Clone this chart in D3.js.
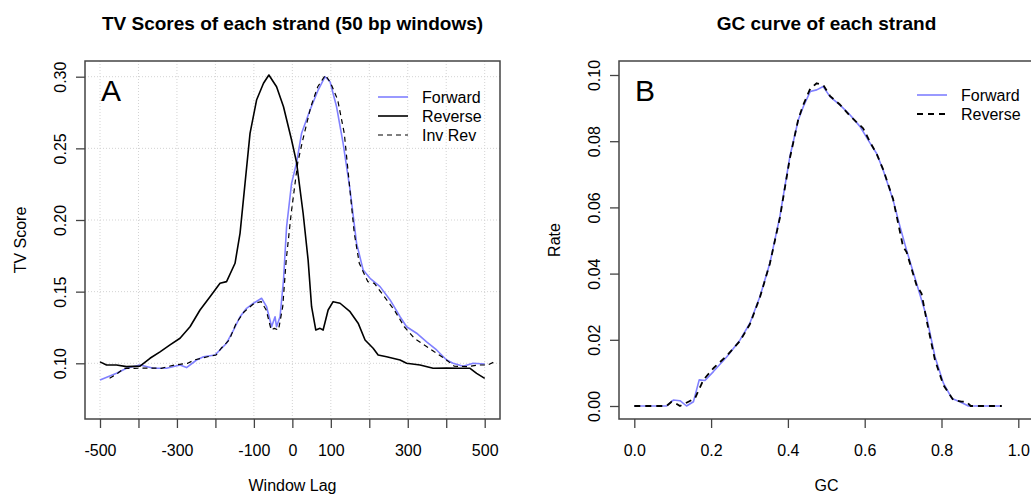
<!DOCTYPE html>
<html lang="en">
<head>
<meta charset="utf-8">
<title>TV scores and GC curve</title>
<script src="https://cdn.jsdelivr.net/npm/d3@7"></script>
<style>
  body { margin: 0; background: #fff; }
  svg { display: block; font-family: "Liberation Sans", Arial, sans-serif; }
  .grid line { stroke: #d3d3d3; stroke-dasharray: 1,2; }
  .axis text { font-size: 16px; fill: #000; }
  .axis line { stroke: #444; stroke-width: 1.3; }
</style>
</head>
<body>
<div id="chart"></div>
<script>
// ---- panel A: TV scores (lag, score) ----
var fwdLag = [-500,-457,-431,-396,-361,-327,-292,-275,-249,-231,-201,-171,-153,-136,-119,-101,-80,-67,-58,-54,
  -45,-41,-32,-23,-15,-2,11,24,46,67,85,98,115,132,150,167,184,202,228,254,280,297,323,349,375,401,418,444,470,500];
var fwdScore = [0.0884,0.093,0.0965,0.0988,0.0965,0.0965,0.0988,0.097,0.1023,0.1046,0.1058,0.114,0.1232,0.1325,0.1384,
  0.1419,0.1454,0.1395,0.130,0.1255,0.1325,0.1255,0.1325,0.158,0.1953,0.2256,0.240,0.2605,0.2768,0.2907,
  0.300,0.2965,0.279,0.2535,0.221,0.1837,0.1651,0.1593,0.1535,0.1442,0.1325,0.1255,0.121,0.115,0.1093,
  0.1023,0.100,0.098,0.100,0.0995];

var revLag = [-500,-483,-457,-431,-396,-370,-344,-318,-292,-266,-240,-214,-188,-171,-149,-136,-123,-110,-93,-75,
  -61,-41,-23,-2,11,28,41,50,61,72,80,93,106,124,150,171,189,210,223,245,280,297,332,366,401,436,462,479,500];
var revScore = [0.101,0.0988,0.0988,0.0977,0.098,0.1035,0.108,0.1128,0.1175,0.1255,0.1372,0.1465,0.1558,0.157,0.1698,
  0.1907,0.2256,0.2605,0.2837,0.2954,0.3012,0.293,0.279,0.2558,0.240,0.2047,0.172,0.1395,0.1232,0.1244,
  0.1232,0.1372,0.143,0.1419,0.136,0.128,0.1163,0.1105,0.1058,0.1046,0.1023,0.100,0.0988,0.0965,0.0967,
  0.0965,0.0965,0.093,0.0895];

var invLag = [-475,-454,-437,-411,-376,-341,-307,-272,-255,-220,-198,-185,-164,-146,-125,-99,-81,-68,-55,-47,
  -36,-25,-16,-3,14,27,48,66,86,100,118,135,148,161,174,196,213,239,265,291,317,343,369,395,421,456,482,508,525];
var invScore = [0.0895,0.093,0.0965,0.0965,0.0967,0.0965,0.0988,0.100,0.1023,0.1046,0.1058,0.1105,0.1163,0.128,0.136,
  0.1419,0.143,0.1372,0.1232,0.1244,0.1232,0.1395,0.172,0.2047,0.240,0.2558,0.279,0.293,0.3012,0.2954,
  0.2837,0.2605,0.2256,0.1907,0.1698,0.157,0.1558,0.1465,0.1372,0.1255,0.1175,0.1128,0.108,0.1035,0.098,
  0.0977,0.0988,0.0988,0.101];

var lagTicks = [-500,-400,-300,-200,-100,0,100,200,300,400,500];
var lagLabels = [-500,-300,-100,0,100,300,500];
var scoreTicks = [0.10,0.15,0.20,0.25,0.30];

// ---- panel B: GC curve (gc, rate) ----
var gcFwd = [0,0.084,0.1016,0.119,0.136,0.154,0.169,0.184,0.206,0.241,0.275,0.301,0.327,0.353,0.379,0.405,0.427,0.44,
  0.458,0.475,0.492,0.51,0.536,0.562,0.588,0.614,0.631,0.648,0.674,0.692,0.709,0.735,0.761,0.783,0.805,0.827,0.848,0.87,0.957];
var rateFwd = [0,0,0.0018,0.0016,0,0.0013,0.0079,0.0077,0.0104,0.0149,0.0199,0.025,0.033,0.0431,0.0572,0.0753,0.0864,0.0904,
  0.095,0.0955,0.0965,0.0934,0.0909,0.0879,0.0844,0.0794,0.0763,0.0713,0.0622,0.0542,0.0471,0.0371,0.027,0.0149,0.0069,
  0.0023,0.0013,0,0];

var gcRev = [0,0.084,0.097,0.108,0.119,0.141,0.158,0.18,0.206,0.241,0.275,0.301,0.327,0.353,0.379,0.405,0.427,0.44,0.458,
  0.475,0.492,0.51,0.536,0.562,0.596,0.614,0.631,0.648,0.674,0.7,0.709,0.735,0.748,0.761,0.783,0.805,0.831,0.852,0.865,0.876,0.957];
var rateRev = [0,0,0.0013,0.0008,0,0.0013,0.0023,0.0079,0.0114,0.0152,0.0196,0.0247,0.0328,0.043,0.0568,0.0748,0.0866,0.091,
  0.0958,0.0975,0.097,0.0936,0.091,0.0876,0.0839,0.0797,0.0762,0.0715,0.0625,0.0481,0.0465,0.0365,0.034,0.026,0.0139,
  0.0063,0.0018,0.0013,0.0013,0,0];

var gcTicks = [0,0.2,0.4,0.6,0.8,1.0];
var rateTicks = [0,0.02,0.04,0.06,0.08,0.10];

var fwdColor = '#8080ff';

var svg = d3.select('#chart').append('svg')
  .attr('width', 1031)
  .attr('height', 498);

svg.append('rect').attr('width', 1031).attr('height', 498).attr('fill', '#fff');

function zip(xs, ys) {
  return xs.map(function (x, i) { return [x, ys[i]]; });
}

function panel(opt) {
  var g = svg.append('g');
  var box = opt.box;
  var x = d3.scaleLinear().domain(opt.xDomain).range(opt.xRange);
  var y = d3.scaleLinear().domain(opt.yDomain).range(opt.yRange);

  g.append('clipPath').attr('id', opt.id + '-clip')
    .append('rect')
    .attr('x', box.x0).attr('y', box.y0)
    .attr('width', box.x1 - box.x0).attr('height', box.y1 - box.y0);

  if (opt.grid) {
    var grid = g.append('g').attr('class', 'grid');
    grid.selectAll('.gx').data(opt.xTicks).enter().append('line')
      .attr('x1', function (d) { return x(d); }).attr('x2', function (d) { return x(d); })
      .attr('y1', box.y0).attr('y2', box.y1);
    grid.selectAll('.gy').data(opt.yTicks).enter().append('line')
      .attr('y1', function (d) { return y(d); }).attr('y2', function (d) { return y(d); })
      .attr('x1', box.x0).attr('x2', box.x1);
  }

  var line = d3.line()
    .x(function (d) { return x(d[0]); })
    .y(function (d) { return y(d[1]); });

  var plot = g.append('g').attr('clip-path', 'url(#' + opt.id + '-clip)');
  opt.series.forEach(function (s) {
    plot.append('path')
      .attr('d', line(zip(s.xs, s.ys)))
      .attr('fill', 'none')
      .attr('stroke', s.color)
      .attr('stroke-width', s.width)
      .attr('stroke-dasharray', s.dash || null)
      .attr('stroke-linejoin', 'round');
  });

  // box
  g.append('rect')
    .attr('x', box.x0).attr('y', box.y0)
    .attr('width', box.x1 - box.x0).attr('height', box.y1 - box.y0)
    .attr('fill', 'none').attr('stroke', '#444').attr('stroke-width', 1.5);

  // axes
  var xa = g.append('g').attr('class', 'axis')
    .attr('transform', 'translate(0,' + box.y1 + ')')
    .call(d3.axisBottom(x).tickValues(opt.xTicks).tickSize(9).tickPadding(17)
      .tickFormat(opt.xFormat));
  xa.select('.domain').remove();
  xa.selectAll('text').attr('font-family', null).attr('font-size', null);

  var ya = g.append('g').attr('class', 'axis')
    .attr('transform', 'translate(' + box.x0 + ',0)')
    .call(d3.axisLeft(y).tickValues(opt.yTicks).tickSize(9).tickFormat(opt.yFormat));
  ya.select('.domain').remove();
  ya.selectAll('text')
    .attr('x', null).attr('dy', null)
    .attr('text-anchor', 'middle')
    .attr('transform', 'translate(-19,0) rotate(-90)');

  // titles
  var cx = (box.x0 + box.x1) / 2;
  g.append('text').attr('x', cx).attr('y', 30)
    .attr('text-anchor', 'middle').attr('font-weight', 'bold').attr('font-size', 19)
    .text(opt.title);
  g.append('text').attr('x', cx).attr('y', 491)
    .attr('text-anchor', 'middle').attr('font-size', 16)
    .text(opt.xLabel);
  g.append('text')
    .attr('transform', 'translate(' + (box.x0 - 59) + ',' + ((box.y0 + box.y1) / 2) + ') rotate(-90)')
    .attr('text-anchor', 'middle').attr('font-size', 16)
    .text(opt.yLabel);

  // panel letter
  g.append('text').attr('x', box.x0 + 16).attr('y', box.y0 + 40)
    .attr('font-size', 30).text(opt.letter);

  // legend
  var leg = g.append('g').attr('transform', 'translate(' + opt.legend.x + ',' + opt.legend.y + ')');
  opt.series.filter(function (s) { return s.name; }).forEach(function (s, i) {
    var row = leg.append('g').attr('transform', 'translate(0,' + (i * opt.legend.step) + ')');
    row.append('line').attr('x1', 0).attr('x2', 30).attr('y1', 0).attr('y2', 0)
      .attr('stroke', s.color).attr('stroke-width', s.width)
      .attr('stroke-dasharray', s.dash || null);
    row.append('text').attr('x', 44).attr('y', 0).attr('dy', '0.35em')
      .attr('font-size', 16).text(s.name);
  });
}

panel({
  id: 'a',
  box: { x0: 85, x1: 500, y0: 61, y1: 419 },
  xDomain: [-500, 500], xRange: [100, 484.7],
  yDomain: [0.10, 0.30], yRange: [363.3, 76.7],
  xTicks: lagTicks, yTicks: scoreTicks,
  xFormat: function (d) { return lagLabels.indexOf(d) >= 0 ? String(d) : ''; },
  yFormat: d3.format('.2f'),
  grid: true,
  title: 'TV Scores of each strand (50 bp windows)',
  xLabel: 'Window Lag', yLabel: 'TV Score', letter: 'A',
  legend: { x: 378, y: 97, step: 19 },
  series: [
    { name: 'Forward', xs: fwdLag, ys: fwdScore, color: fwdColor, width: 1.6 },
    { name: 'Reverse', xs: revLag, ys: revScore, color: '#000', width: 1.6 },
    { name: 'Inv Rev', xs: invLag, ys: invScore, color: '#000', width: 1.2, dash: '5,4' }
  ]
});

panel({
  id: 'b',
  box: { x0: 619, x1: 1034, y0: 61, y1: 419 },
  xDomain: [0, 1], xRange: [634.3, 1018.3],
  yDomain: [0, 0.10], yRange: [406, 75],
  xTicks: gcTicks, yTicks: rateTicks,
  xFormat: d3.format('.1f'),
  yFormat: d3.format('.2f'),
  grid: false,
  title: 'GC curve of each strand',
  xLabel: 'GC', yLabel: 'Rate', letter: 'B',
  legend: { x: 917, y: 95, step: 19 },
  series: [
    { name: 'Forward', xs: gcFwd, ys: rateFwd, color: fwdColor, width: 1.6 },
    { name: 'Reverse', xs: gcRev, ys: rateRev, color: '#000', width: 1.8, dash: '6,5' }
  ]
});
</script>
</body>
</html>
